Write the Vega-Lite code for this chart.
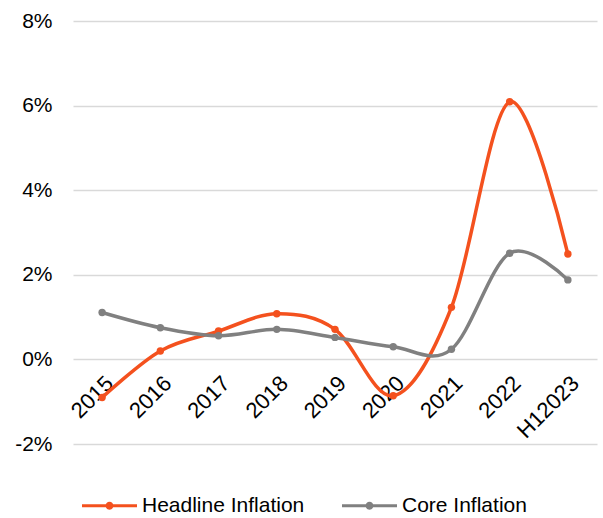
{
  "$schema": "https://vega.github.io/schema/vega-lite/v6.json",
  "width": 524,
  "height": 423,
  "autosize": {"type": "none"},
  "padding": {"left": 73, "top": 21, "right": 6, "bottom": 74},
  "background": "white",
  "config": {
    "view": {"stroke": null},
    "font": "Liberation Sans",
    "axis": {"labelFont": "Liberation Sans", "labelColor": "#000000"},
    "legend": {"labelFont": "Liberation Sans"}
  },
  "data": {
    "values": [
      {"year": "2015", "series": "Headline Inflation", "value": -0.9},
      {"year": "2016", "series": "Headline Inflation", "value": 0.2},
      {"year": "2017", "series": "Headline Inflation", "value": 0.67},
      {"year": "2018", "series": "Headline Inflation", "value": 1.08},
      {"year": "2019", "series": "Headline Inflation", "value": 0.71},
      {"year": "2020", "series": "Headline Inflation", "value": -0.86},
      {"year": "2021", "series": "Headline Inflation", "value": 1.23},
      {"year": "2022", "series": "Headline Inflation", "value": 6.09},
      {"year": "H12023", "series": "Headline Inflation", "value": 2.49},
      {"year": "2015", "series": "Core Inflation", "value": 1.11},
      {"year": "2016", "series": "Core Inflation", "value": 0.75},
      {"year": "2017", "series": "Core Inflation", "value": 0.56},
      {"year": "2018", "series": "Core Inflation", "value": 0.71},
      {"year": "2019", "series": "Core Inflation", "value": 0.52},
      {"year": "2020", "series": "Core Inflation", "value": 0.3},
      {"year": "2021", "series": "Core Inflation", "value": 0.24},
      {"year": "2022", "series": "Core Inflation", "value": 2.51},
      {"year": "H12023", "series": "Core Inflation", "value": 1.88}
    ]
  },
  "mark": {
    "type": "line",
    "interpolate": "cardinal",
    "strokeWidth": 3.5,
    "point": {"filled": true, "size": 55}
  },
  "encoding": {
    "x": {
      "field": "year",
      "type": "ordinal",
      "sort": null,
      "scale": {"type": "point", "padding": 0.5},
      "axis": {
        "title": null,
        "offset": -84.6,
        "domain": false,
        "ticks": false,
        "grid": false,
        "labelAngle": -45,
        "labelAlign": "right",
        "labelBaseline": "top",
        "labelFontSize": 22,
        "labelPadding": 13,
        "labelDx": -7
      }
    },
    "y": {
      "field": "value",
      "type": "quantitative",
      "scale": {"domain": [-2, 8], "nice": false, "zero": false},
      "axis": {
        "title": null,
        "values": [-2, 0, 2, 4, 6, 8],
        "labelExpr": "datum.value + '%'",
        "domain": false,
        "ticks": false,
        "grid": true,
        "gridColor": "#d9d9d9",
        "gridWidth": 1.5,
        "labelFontSize": 21,
        "labelPadding": 21
      }
    },
    "color": {
      "field": "series",
      "type": "nominal",
      "scale": {
        "domain": ["Headline Inflation", "Core Inflation"],
        "range": ["#F4511E", "#808080"]
      },
      "legend": {
        "title": null,
        "orient": "none",
        "direction": "horizontal",
        "legendX": 9,
        "legendY": 457,
        "padding": 0,
        "labelFontSize": 21,
        "labelLimit": 400,
        "labelColor": "#000000",
        "labelOffset": 5,
        "columnPadding": 37,
        "symbolType": "M-1,-0.055L1,-0.055L1,0.055L-1,0.055Z M0.145,0A0.145,0.145 0 1,1 -0.145,0A0.145,0.145 0 1,1 0.145,0Z",
        "symbolSize": 3025,
        "symbolStrokeWidth": 0,
        "encode": {
          "symbols": {
            "update": {
              "fill": {"scale": "color", "field": "value"},
              "fillOpacity": {"value": 1},
              "strokeWidth": {"value": 0}
            }
          }
        }
      }
    }
  }
}
